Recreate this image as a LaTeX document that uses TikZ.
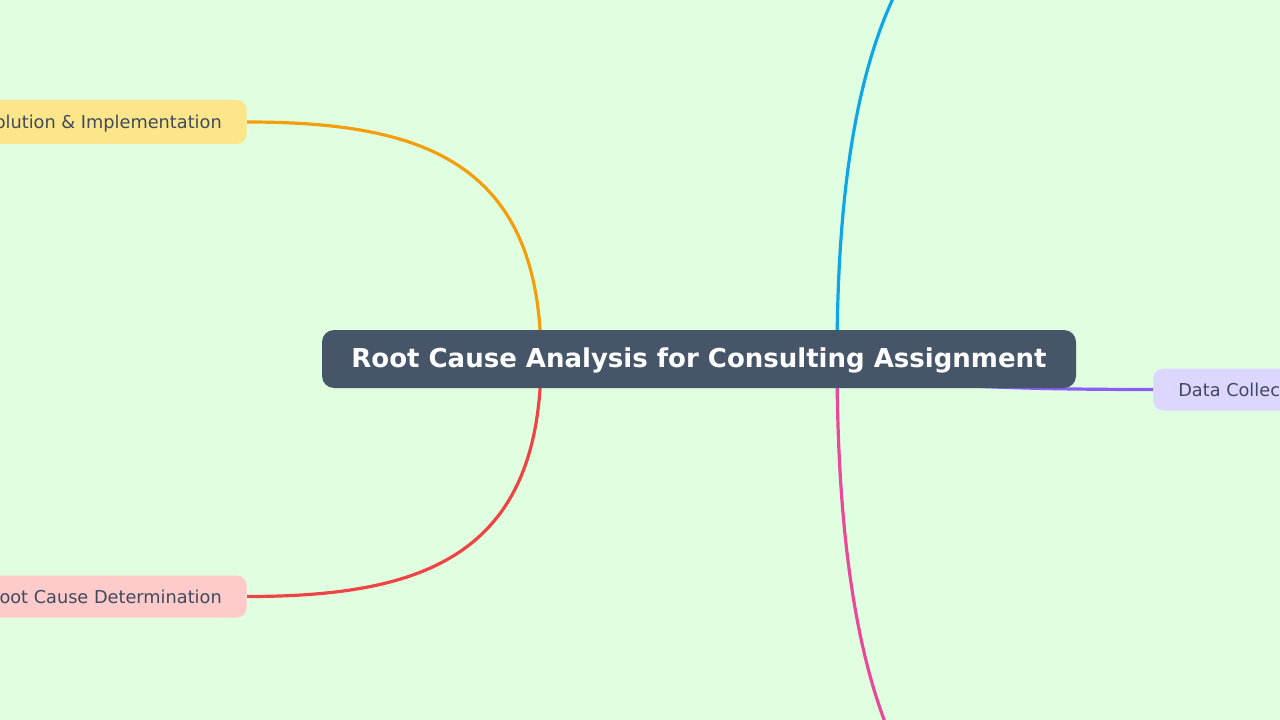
\documentclass[tikz,border=0pt]{standalone}
\usepackage{fontspec}
\setmainfont{DejaVu Sans}
\usetikzlibrary{backgrounds}

\definecolor{canvasmint}{HTML}{E0FFE0}
\definecolor{rootslate}{HTML}{475569}
\definecolor{leaftext}{HTML}{3F4A5C}
\definecolor{fillyellow}{HTML}{FDE68A}
\definecolor{fillpink}{HTML}{FECACA}
\definecolor{fillviolet}{HTML}{DDD6FE}
\definecolor{linkorange}{HTML}{F59E0B}
\definecolor{linkred}{HTML}{EF4444}
\definecolor{linkblue}{HTML}{0EA5E9}
\definecolor{linkpink}{HTML}{EC4899}
\definecolor{linkviolet}{HTML}{8B5CF6}

\pgfdeclarelayer{canvas}
\pgfdeclarelayer{links}
\pgfsetlayers{canvas,links,main}

\tikzset{
	rootbox/.style={fill=rootslate, text=white, rounded corners=9pt,
		minimum width=565.5pt, minimum height=43.5pt, inner sep=0pt,
		text height=17pt, text depth=4.6pt,
		font=\fontsize{19.5}{23}\selectfont\bfseries},
	leaf/.style={text=leaftext, rounded corners=7.5pt, minimum height=31.5pt,
		inner xsep=18.75pt, inner ysep=0pt,
		font=\fontsize{13.3}{16}\selectfont},
	link/.style={line width=2.4pt}
}

\begin{document}
\begin{tikzpicture}[x=0.75pt,y=-0.75pt]
	% Canvas
	\useasboundingbox (0,0) rectangle (1280,720);
	\begin{pgfonlayer}{canvas}
		\fill[canvasmint] (0,0) rectangle (1280,720);
	\end{pgfonlayer}
	
	% Nodes
	\node[rootbox] (root) at (699,359) {Root Cause Analysis for Consulting Assignment};
	\node[leaf, fill=fillyellow, anchor=east, minimum height=33pt, text height=12.7pt, text depth=3.1pt] (solution) at (247,122) {Solution \& Implementation};
	\node[leaf, fill=fillpink, anchor=east] (rootcause) at (247,596.5) {Root Cause Determination};
	\node[leaf, fill=fillviolet, anchor=west] (datacoll) at (1153,389.5) {Data Collection};
	
	% Forks and ends outside the page
	\coordinate (leftfork) at (541,359);
	\coordinate (rightfork) at (837,359);
	\coordinate (upperend) at (1153,-150);
	\coordinate (lowerend) at (1153,900);
	
	% Links
	\begin{pgfonlayer}{links}
		\draw[link, linkorange] (leftfork) .. controls +(0,-199) and +(173,0) .. (solution.east);
		\draw[link, linkred] (leftfork) .. controls +(0,199) and +(173,0) .. (rootcause.east);
		\draw[link, linkblue] (rightfork) .. controls +(0,-428) and +(-186,0) .. (upperend);
		\draw[link, linkpink] (rightfork) .. controls +(0,454) and +(-186,0) .. (lowerend);
		\draw[link, linkviolet] (rightfork) .. controls +(0,26) and +(-150,0) .. (datacoll.west);
	\end{pgfonlayer}
\end{tikzpicture}
\end{document}
